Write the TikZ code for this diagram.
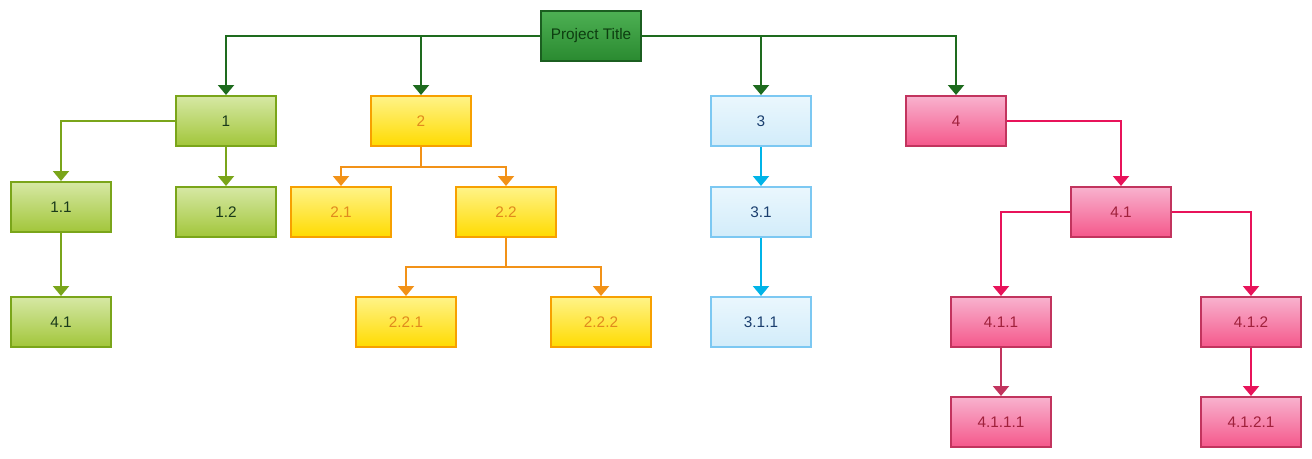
\documentclass[tikz,border=0pt]{standalone}
\usepackage{fontspec}
\setmainfont{Liberation Sans}
\usetikzlibrary{arrows.meta,shadings}
\definecolor{gdark}{HTML}{1E6B1E}
\definecolor{gfillt}{HTML}{4DB053}
\definecolor{gfillb}{HTML}{2A8A30}
\definecolor{gbord}{HTML}{1B5E20}
\definecolor{gtext}{HTML}{0D3D10}
\definecolor{lline}{HTML}{7AA51A}
\definecolor{lfillt}{HTML}{D6E8A4}
\definecolor{lfillb}{HTML}{A2C63A}
\definecolor{ltext}{HTML}{1A3A1A}
\definecolor{yline}{HTML}{F29218}
\definecolor{yfillt}{HTML}{FFF388}
\definecolor{yfillb}{HTML}{FFDB00}
\definecolor{ybord}{HTML}{F7A000}
\definecolor{ytext}{HTML}{E08A1E}
\definecolor{bline}{HTML}{00B4E8}
\definecolor{bfillt}{HTML}{EAF7FD}
\definecolor{bfillb}{HTML}{D2ECFA}
\definecolor{bbord}{HTML}{7CC8F2}
\definecolor{btext}{HTML}{1A3E6E}
\definecolor{pline}{HTML}{E8135A}
\definecolor{pline2}{HTML}{C2345E}
\definecolor{pfillt}{HTML}{F8B2CE}
\definecolor{pfillb}{HTML}{F5588B}
\definecolor{pbord}{HTML}{C2345E}
\definecolor{ptext}{HTML}{A0213C}
\tikzset{
  box/.style={minimum width=75pt,minimum height=37.5pt,inner sep=0pt,line width=1.5pt,font=\fontsize{11.5}{13}\selectfont},
  gbox/.style={box,draw=gbord,top color=gfillt,bottom color=gfillb,text=gtext},
  lbox/.style={box,draw=lline,top color=lfillt,bottom color=lfillb,text=ltext},
  ybox/.style={box,draw=ybord,top color=yfillt,bottom color=yfillb,text=ytext},
  bbox/.style={box,draw=bbord,top color=bfillt,bottom color=bfillb,text=btext},
  pbox/.style={box,draw=pbord,top color=pfillt,bottom color=pfillb,text=ptext},
  conn/.style={line width=1.5pt,-{Triangle[width=12pt,length=7.5pt]}},
  gconn/.style={conn,draw=gdark},
  lconn/.style={conn,draw=lline},
  yconn/.style={conn,draw=yline},
  bconn/.style={conn,draw=bline},
  pconn/.style={conn,draw=pline},
  pconntwo/.style={conn,draw=pline2},
}
\begin{document}
\begin{tikzpicture}[x=0.75pt,y=-0.75pt]
\useasboundingbox (0,0) rectangle (1312,458);
\node[gbox] (pt) at (591,36) {Project Title};
\node[lbox] (n1) at (226,121) {1};
\node[ybox] (n2) at (421,121) {2};
\node[bbox] (n3) at (761,121) {3};
\node[pbox] (n4) at (956,121) {4};
\node[lbox] (n11) at (61,207) {1.1};
\node[lbox] (n12) at (226,212) {1.2};
\node[lbox] (n41g) at (61,322) {4.1};
\node[ybox] (n21) at (341,212) {2.1};
\node[ybox] (n22) at (506,212) {2.2};
\node[ybox] (n221) at (406,322) {2.2.1};
\node[ybox] (n222) at (601,322) {2.2.2};
\node[bbox] (n31) at (761,212) {3.1};
\node[bbox] (n311) at (761,322) {3.1.1};
\node[pbox] (n41) at (1121,212) {4.1};
\node[pbox] (n411) at (1001,322) {4.1.1};
\node[pbox] (n412) at (1251,322) {4.1.2};
\node[pbox] (n4111) at (1001,422) {4.1.1.1};
\node[pbox] (n4121) at (1251,422) {4.1.2.1};
% top level
\draw[gconn] (pt.west) -| (n1.north);
\draw[gconn] (pt.west -| n2.north) -- (n2.north);
\draw[gconn] (pt.east) -| (n4.north);
\draw[gconn] (pt.east -| n3.north) -- (n3.north);
% branch 1
\draw[lconn] (n1.west) -| (n11.north);
\draw[lconn] (n1.south) -- (n12.north);
\draw[lconn] (n11.south) -- (n41g.north);
% branch 2
\draw[yconn] (n2.south) -- ++(0,20) -| (n21.north);
\draw[yconn] (n2.south) -- ++(0,20) -| (n22.north);
\draw[yconn] (n22.south) -- ++(0,29) -| (n221.north);
\draw[yconn] (n22.south) -- ++(0,29) -| (n222.north);
% branch 3
\draw[bconn] (n3.south) -- (n31.north);
\draw[bconn] (n31.south) -- (n311.north);
% branch 4
\draw[pconn] (n4.east) -| (n41.north);
\draw[pconn] (n41.west) -| (n411.north);
\draw[pconn] (n41.east) -| (n412.north);
\draw[pconntwo] (n411.south) -- (n4111.north);
\draw[pconn] (n412.south) -- (n4121.north);
\end{tikzpicture}
\end{document}
